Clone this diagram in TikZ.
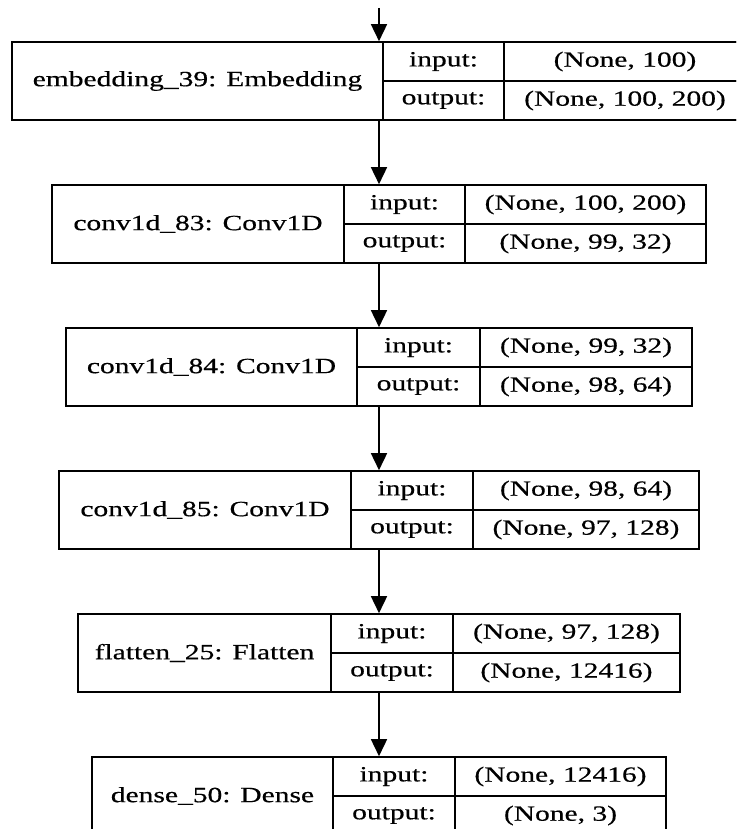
\documentclass[tikz,border=0pt]{standalone}
\usepackage{fontspec}
\setmainfont{Liberation Serif}[FakeStretch=1.36,FakeBold=0.5]
\usetikzlibrary{arrows.meta}

\begin{document}
\begin{tikzpicture}[x=1pt,y=-1pt,
  font=\fontsize{21.7}{25}\selectfont,
  layer/.style={draw, line width=1.6pt, inner sep=0pt, minimum height=78pt},
  cell/.style={draw, line width=1.6pt, inner sep=0pt, minimum height=39pt},
  flow/.style={-{Triangle[length=17pt,width=16pt]}, line width=1.6pt}]
  \useasboundingbox (0,0) rectangle (736,829);
  \clip (0,0) rectangle (736,829);

  % embedding
  \node[layer, minimum width=734pt] (emb) at (379,81) {};
  \node (embname) at (197.5,81) {embedding\_39: Embedding};
  \node[cell, minimum width=121pt] (embin) at (443.5,61.5) {input:};
  \node[cell, minimum width=121pt] (embout) at (443.5,100.5) {output:};
  \node[cell, minimum width=242pt] (embinv) at (625,61.5) {(None, 100)};
  \node[cell, minimum width=242pt] (emboutv) at (625,100.5) {(None, 100, 200)};

  % conv 1
  \node[layer, minimum width=654pt] (conv83) at (379,224) {};
  \node (conv83name) at (198,224) {conv1d\_83: Conv1D};
  \node[cell, minimum width=121pt] (conv83in) at (404.5,204.5) {input:};
  \node[cell, minimum width=121pt] (conv83out) at (404.5,243.5) {output:};
  \node[cell, minimum width=241pt] (conv83inv) at (585.5,204.5) {(None, 100, 200)};
  \node[cell, minimum width=241pt] (conv83outv) at (585.5,243.5) {(None, 99, 32)};

  % conv 2
  \node[layer, minimum width=626pt] (conv84) at (379,367) {};
  \node (conv84name) at (211.5,367) {conv1d\_84: Conv1D};
  \node[cell, minimum width=123pt] (conv84in) at (418.5,347.5) {input:};
  \node[cell, minimum width=123pt] (conv84out) at (418.5,386.5) {output:};
  \node[cell, minimum width=212pt] (conv84inv) at (586,347.5) {(None, 99, 32)};
  \node[cell, minimum width=212pt] (conv84outv) at (586,386.5) {(None, 98, 64)};

  % conv 3
  \node[layer, minimum width=640pt] (conv85) at (379,510) {};
  \node (conv85name) at (205,510) {conv1d\_85: Conv1D};
  \node[cell, minimum width=122pt] (conv85in) at (412,490.5) {input:};
  \node[cell, minimum width=122pt] (conv85out) at (412,529.5) {output:};
  \node[cell, minimum width=226pt] (conv85inv) at (586,490.5) {(None, 98, 64)};
  \node[cell, minimum width=226pt] (conv85outv) at (586,529.5) {(None, 97, 128)};

  % flatten
  \node[layer, minimum width=602pt] (flat) at (379,653) {};
  \node (flatname) at (204.5,653) {flatten\_25: Flatten};
  \node[cell, minimum width=122pt] (flatin) at (392,633.5) {input:};
  \node[cell, minimum width=122pt] (flatout) at (392,672.5) {output:};
  \node[cell, minimum width=227pt] (flatinv) at (566.5,633.5) {(None, 97, 128)};
  \node[cell, minimum width=227pt] (flatoutv) at (566.5,672.5) {(None, 12416)};

  % dense
  \node[layer, minimum width=574pt] (dense) at (379,796) {};
  \node (densename) at (212.5,796) {dense\_50: Dense};
  \node[cell, minimum width=122pt] (densein) at (394,776.5) {input:};
  \node[cell, minimum width=122pt] (denseout) at (394,815.5) {output:};
  \node[cell, minimum width=211pt] (denseinv) at (560.5,776.5) {(None, 12416)};
  \node[cell, minimum width=211pt] (denseoutv) at (560.5,815.5) {(None, 3)};

  \coordinate (start) at (379,8);
  \draw[flow] (start) -- (emb);
  \draw[flow] (emb) -- (conv83);
  \draw[flow] (conv83) -- (conv84);
  \draw[flow] (conv84) -- (conv85);
  \draw[flow] (conv85) -- (flat);
  \draw[flow] (flat) -- (dense);
\end{tikzpicture}
\end{document}
